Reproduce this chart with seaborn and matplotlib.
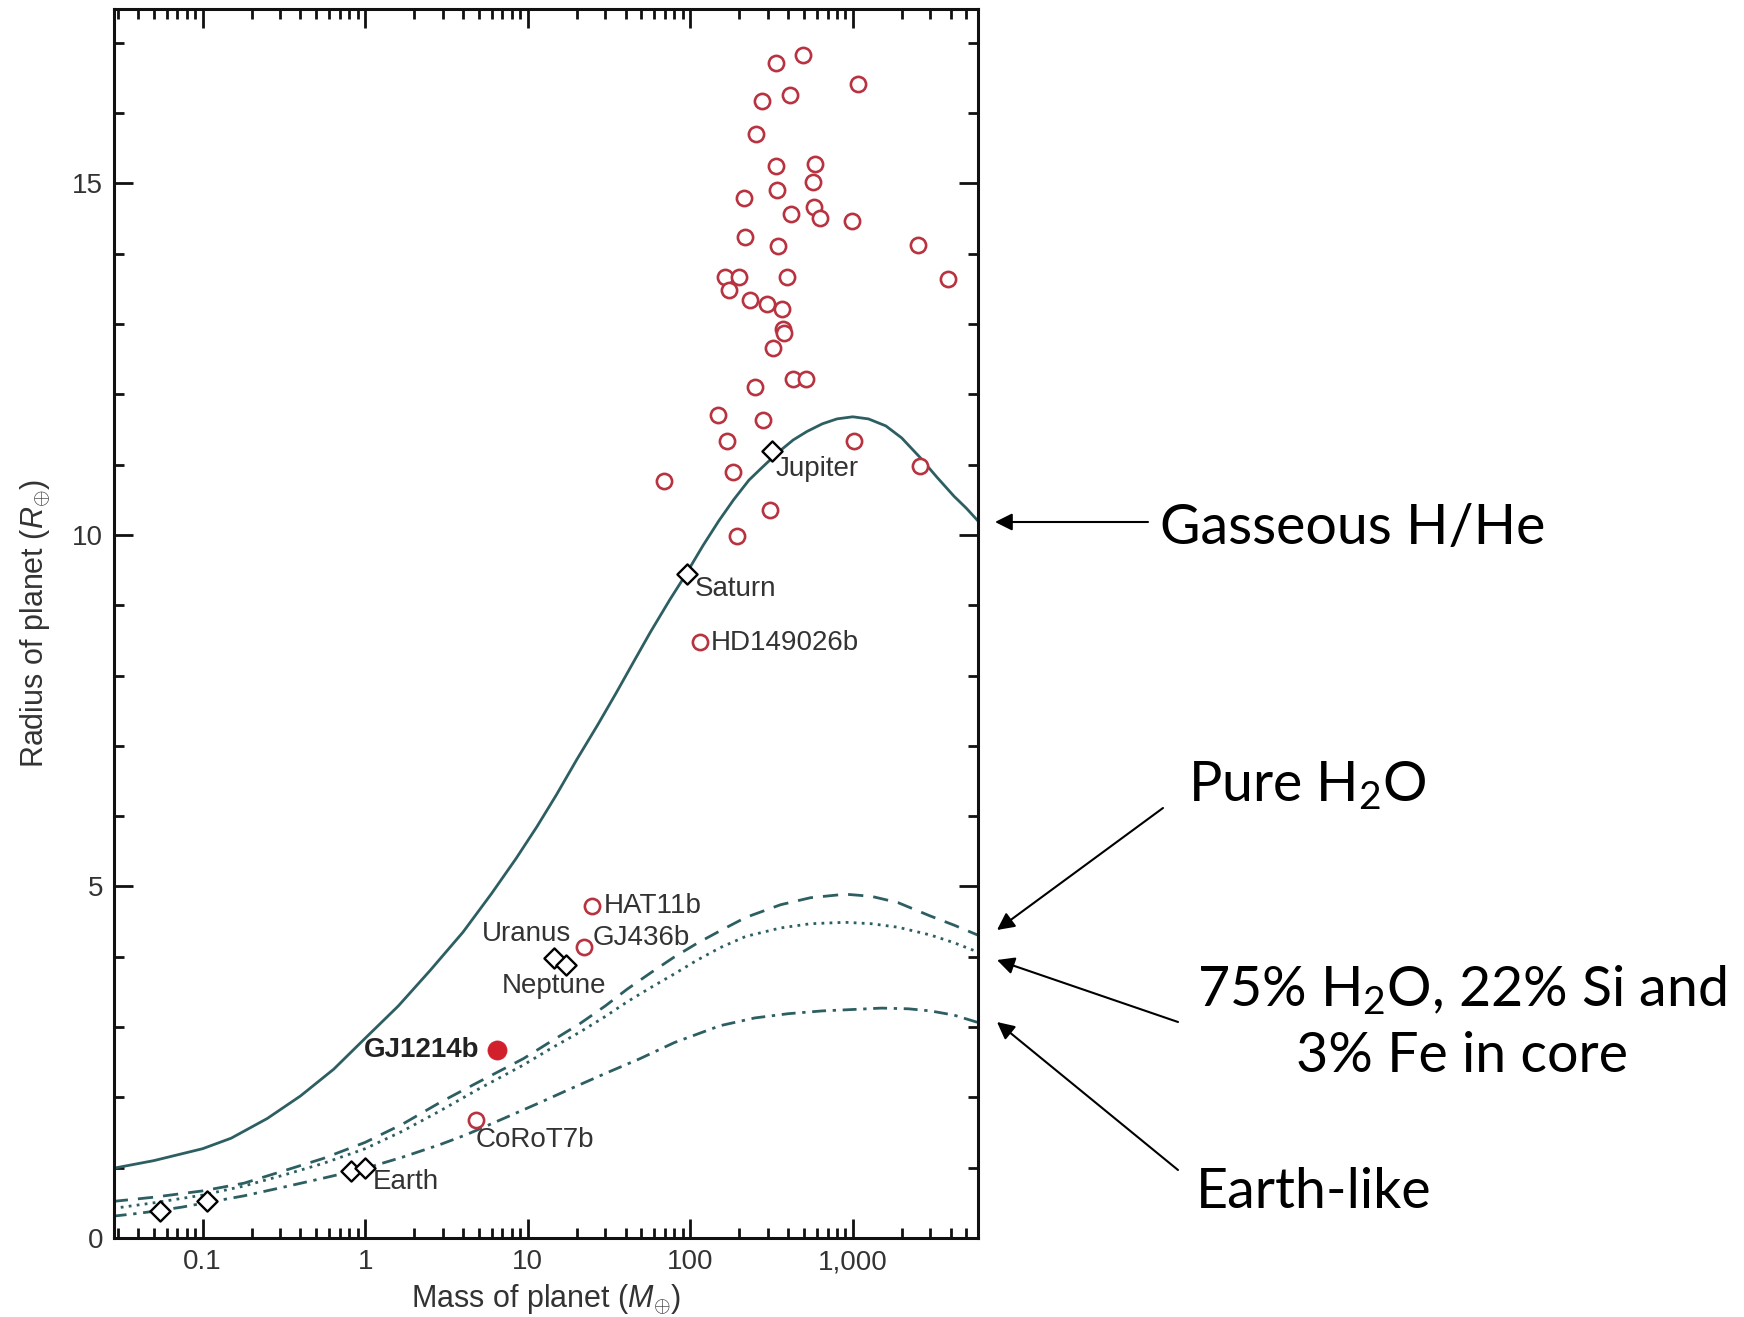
import matplotlib
matplotlib.use("Agg")
import matplotlib.pyplot as plt
from matplotlib.ticker import FixedLocator, LogLocator, MultipleLocator, NullFormatter, FixedFormatter
import seaborn as sns

# ---------------- model mass-radius curves (M_earth, R_earth) ----------------
hhe_mass = [0.028, 0.05, 0.1, 0.15, 0.25, 0.4, 0.64, 1.0, 1.6, 2.5, 4, 6, 8.5, 11.4, 15,
            20, 27, 35, 45, 57, 75, 93, 120, 150, 185, 230, 283, 350, 430, 522, 650,
            800, 1000, 1250, 1600, 2000, 2600, 3300, 4200, 5000, 6000]
hhe_radius = [0.99, 1.10, 1.27, 1.42, 1.70, 2.02, 2.40, 2.84, 3.30, 3.80, 4.35, 4.90, 5.40,
              5.85, 6.30, 6.80, 7.30, 7.75, 8.20, 8.62, 9.08, 9.42, 9.85, 10.20, 10.50,
              10.78, 10.98, 11.18, 11.35, 11.47, 11.58, 11.65, 11.68, 11.65, 11.55, 11.38,
              11.10, 10.82, 10.55, 10.38, 10.18]

water_mass = [0.028, 0.05, 0.1, 0.18, 0.31, 0.55, 1.0, 1.7, 2.9, 5, 9.4, 14, 21, 30, 41,
              57, 79, 110, 153, 220, 360, 550, 900, 1300, 1900, 3000, 4200, 6000]
water_radius = [0.52, 0.58, 0.67, 0.78, 0.95, 1.13, 1.36, 1.62, 1.93, 2.22, 2.55, 2.80,
                3.05, 3.30, 3.54, 3.77, 3.99, 4.19, 4.37, 4.56, 4.74, 4.84, 4.89, 4.86,
                4.77, 4.58, 4.45, 4.30]

mix_mass = [0.028, 0.05, 0.1, 0.18, 0.31, 0.55, 1.0, 1.7, 2.9, 5, 9.4, 14, 21, 30, 41,
            57, 79, 110, 153, 220, 360, 550, 900, 1300, 1900, 3000, 4200, 6000]
mix_radius = [0.42, 0.50, 0.61, 0.74, 0.89, 1.06, 1.27, 1.52, 1.81, 2.12, 2.46, 2.70,
              2.93, 3.15, 3.36, 3.56, 3.75, 3.95, 4.13, 4.29, 4.41, 4.47, 4.49, 4.47,
              4.42, 4.31, 4.20, 4.06]

rock_mass = [0.028, 0.04, 0.054, 0.075, 0.104, 0.18, 0.31, 0.55, 1.0, 1.7, 2.9, 4.2, 7.45,
             12, 19.1, 30, 49, 80, 153, 250, 400, 650, 1000, 1500, 2200, 3000, 4200, 6000]
rock_radius = [0.31, 0.35, 0.39, 0.44, 0.50, 0.60, 0.72, 0.85, 0.99, 1.15, 1.33, 1.47,
               1.72, 1.93, 2.14, 2.34, 2.55, 2.78, 3.02, 3.13, 3.19, 3.23, 3.25, 3.27,
               3.26, 3.23, 3.17, 3.06]

# ---------------- transiting exoplanets ----------------
exo_mass = [497, 336, 1074, 411, 278, 253, 336, 582, 566, 342, 213, 574, 418, 630, 993,
            218, 347, 2506, 163, 199, 393, 3836, 173, 234, 296, 369, 375, 378, 325, 249,
            431, 513, 148, 282, 168, 1023, 184, 2588, 69, 310, 194]
exo_radius = [16.82, 16.71, 16.42, 16.25, 16.17, 15.70, 15.25, 15.27, 15.02, 14.91, 14.79,
              14.67, 14.57, 14.51, 14.46, 14.24, 14.11, 14.13, 13.67, 13.67, 13.67, 13.64,
              13.48, 13.34, 13.28, 13.21, 12.93, 12.87, 12.66, 12.10, 12.22, 12.22, 11.71,
              11.63, 11.33, 11.33, 10.90, 10.98, 10.76, 10.36, 9.98]

named_exo = ["HAT11b", "GJ436b", "HD149026b", "CoRoT7b"]
named_exo_mass = [25.0, 22.2, 115, 4.8]
named_exo_radius = [4.72, 4.14, 8.47, 1.68]

gj1214_mass = [6.5]
gj1214_radius = [2.67]

# ---------------- solar-system planets ----------------
solar_names = ["Mercury", "Mars", "Venus", "Earth", "Uranus", "Neptune", "Saturn", "Jupiter"]
solar_mass = [0.055, 0.107, 0.815, 1.0, 14.5, 17.1, 95, 318]
solar_radius = [0.38, 0.53, 0.95, 1.0, 3.98, 3.88, 9.45, 11.2]

x_ticks = [0.1, 1, 10, 100, 1000]
x_ticklabels = ["0.1", "1", "10", "100", "1,000"]
y_ticks = [0, 5, 10, 15]

# ---------------- style ----------------
sns.set_theme(style="ticks")
plt.rcParams["font.family"] = ["Liberation Sans", "DejaVu Sans"]
plt.rcParams["mathtext.fontset"] = "custom"
plt.rcParams["mathtext.rm"] = "Lato"
plt.rcParams["mathtext.it"] = "Liberation Sans:italic"

W, H = 1744, 1317
fig = plt.figure(figsize=(W / 100, H / 100), dpi=100)
fig.patch.set_facecolor("white")
ax = fig.add_axes([114 / W, 1 - 1238 / H, (978 - 114) / W, (1238 - 9) / H])
ax.set_facecolor("white")

teal = "#2d5f62"
red_edge = "#b8323f"
red_fill = "#d11f2b"
text_col = "#333333"

curves = [
    (hhe_mass, hhe_radius, "-"),
    (water_mass, water_radius, (0, (5.5, 3.6))),
    (mix_mass, mix_radius, (0, (1.0, 1.9))),
    (rock_mass, rock_radius, (0, (5.0, 2.4, 1.2, 2.4))),
]
for m, r, ls in curves:
    sns.lineplot(x=m, y=r, ax=ax, color=teal, linewidth=2.0, linestyle=ls,
                 sort=False, estimator=None, zorder=2)

# exoplanets
sns.scatterplot(x=exo_mass + named_exo_mass, y=exo_radius + named_exo_radius, ax=ax,
                marker="o", s=120, color="white", edgecolor=red_edge, linewidth=1.9,
                zorder=4, legend=False)
sns.scatterplot(x=gj1214_mass, y=gj1214_radius, ax=ax, marker="o", s=190,
                color=red_fill, edgecolor=red_fill, linewidth=0.5, zorder=5, legend=False)
# solar system
sns.scatterplot(x=solar_mass, y=solar_radius, ax=ax, marker="D", s=105, color="white",
                edgecolor="black", linewidth=1.7, zorder=5, legend=False)

# point labels
lab_fs = 20
label_specs = {
    "Earth": ((1.0, 1.0), (5.5, -10), "left"),
    "Uranus": ((14.5, 3.98), (-19.5, 17.5), "center"),
    "Neptune": ((17.1, 3.88), (-8, -15), "center"),
    "Saturn": ((95, 9.45), (6, -11), "left"),
    "Jupiter": ((318, 11.2), (3, -13.5), "left"),
    "HAT11b": ((25.0, 4.72), (8, 0), "left"),
    "GJ436b": ((22.2, 4.14), (6, 6.5), "left"),
    "HD149026b": ((115, 8.47), (8, -0.5), "left"),
    "CoRoT7b": ((4.8, 1.68), (0, -14.5), "left"),
}
for name, (xy, off, ha) in label_specs.items():
    ax.annotate(name, xy=xy, xytext=off, textcoords="offset points", ha=ha, va="center",
                fontsize=lab_fs, color=text_col, zorder=6)
ax.annotate("GJ1214b", xy=(gj1214_mass[0], gj1214_radius[0]), xytext=(-13, 0),
            textcoords="offset points", ha="right", va="center", fontsize=lab_fs,
            fontweight="bold", color="#222222", zorder=6)

# axes
ax.set_xscale("log")
ax.set_xlim(0.0285, 5900)
ax.set_ylim(0, 17.48)
ax.xaxis.set_major_locator(FixedLocator(x_ticks))
ax.xaxis.set_major_formatter(FixedFormatter(x_ticklabels))
ax.xaxis.set_minor_locator(LogLocator(base=10, subs=range(2, 10), numticks=20))
ax.xaxis.set_minor_formatter(NullFormatter())
ax.yaxis.set_major_locator(FixedLocator(y_ticks))
ax.yaxis.set_minor_locator(MultipleLocator(1))
ax.tick_params(which="both", direction="in", top=True, right=True, color="#111111",
               width=2.0, labelsize=20, labelcolor=text_col, pad=8)
ax.tick_params(which="major", length=14)
ax.tick_params(which="minor", length=7)
for s in ax.spines.values():
    s.set_linewidth(2.2)
    s.set_color("#111111")
    s.set_visible(True)

ax.set_xlabel(r"Mass of planet ($\mathit{M}_{\oplus}$)", fontsize=22, color=text_col, labelpad=5)
ax.set_ylabel(r"Radius of planet ($\mathit{R}_{\oplus}$)", fontsize=22, color=text_col, labelpad=14)

# composition callouts
def fpt(x, y):
    return (x / W, 1 - y / H)

note_font = ["Lato", "DejaVu Sans"]
note_fs = 40
arrow_kw = dict(arrowstyle="-|>", color="black", lw=1.5, mutation_scale=26,
                shrinkA=0, shrinkB=0)

fig.text(*fpt(1160, 528), "Gasseous H/He", fontsize=note_fs, family=note_font,
         ha="left", va="center", color="black")
ax.annotate("", xy=fpt(995, 522), xycoords="figure fraction", xytext=fpt(1148, 522),
            textcoords="figure fraction", arrowprops=arrow_kw, annotation_clip=False)

fig.text(*fpt(1188, 786), r"Pure H$_2$O", fontsize=note_fs, family=note_font,
         ha="left", va="center", color="black")
ax.annotate("", xy=fpt(997, 930), xycoords="figure fraction", xytext=fpt(1163, 808),
            textcoords="figure fraction", arrowprops=arrow_kw, annotation_clip=False)

fig.text(*fpt(1462, 990), r"75% H$_2$O, 22% Si and", fontsize=note_fs, family=note_font,
         ha="center", va="center", color="black")
fig.text(*fpt(1462, 1056), "3% Fe in core", fontsize=note_fs, family=note_font,
         ha="center", va="center", color="black")
ax.annotate("", xy=fpt(997, 960), xycoords="figure fraction", xytext=fpt(1178, 1022),
            textcoords="figure fraction", arrowprops=arrow_kw, annotation_clip=False)

fig.text(*fpt(1196, 1193), "Earth-like", fontsize=note_fs, family=note_font,
         ha="left", va="center", color="black")
ax.annotate("", xy=fpt(997, 1022), xycoords="figure fraction", xytext=fpt(1178, 1170),
            textcoords="figure fraction", arrowprops=arrow_kw, annotation_clip=False)

fig.savefig("out.png", dpi=100, facecolor="white")
